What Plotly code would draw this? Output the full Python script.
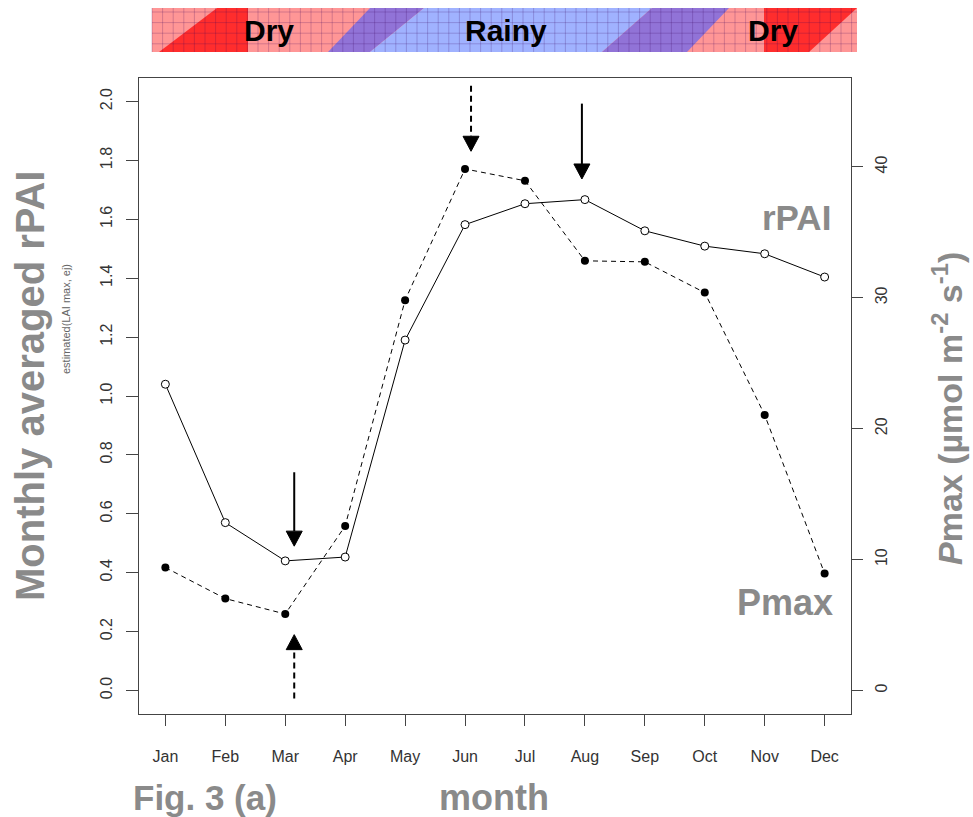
import plotly.graph_objects as go

# ---------------- data ----------------
months = ["Jan", "Feb", "Mar", "Apr", "May", "Jun", "Jul", "Aug", "Sep", "Oct", "Nov", "Dec"]
month_idx = list(range(1, 13))
rpai = [1.040, 0.570, 0.440, 0.453, 1.190, 1.582, 1.653, 1.667, 1.561, 1.509, 1.483, 1.404]
pmax = [9.39, 7.02, 5.84, 12.57, 29.82, 39.85, 38.95, 32.83, 32.75, 30.40, 21.05, 8.93]
left_ticks = [0.0, 0.2, 0.4, 0.6, 0.8, 1.0, 1.2, 1.4, 1.6, 1.8, 2.0]
right_ticks = [0, 10, 20, 30, 40]

# ---------------- layout helpers ----------------
W, H = 973, 817
PL, PR, PT, PB = 139, 851, 78, 714  # plot area in pixels


def px(x):
    return (x - PL) / (PR - PL)


def py(y):
    return (PB - y) / (PB - PT)


GRAY = "#8a8a8a"
TICKFONT = dict(family="Liberation Sans, Arial, sans-serif", size=16, color="#333")

fig = go.Figure()

fig.add_trace(go.Scatter(
    x=month_idx, y=rpai, mode="lines+markers", name="rPAI",
    line=dict(color="black", width=1),
    marker=dict(symbol="circle", size=8, color="white", line=dict(color="black", width=1)),
    yaxis="y", showlegend=False))

fig.add_trace(go.Scatter(
    x=month_idx, y=pmax, mode="lines+markers", name="Pmax",
    line=dict(color="black", width=1, dash="5px,4px"),
    marker=dict(symbol="circle", size=8, color="black"),
    yaxis="y2", showlegend=False))

shapes = []

# ---------------- arrows (relative to data points) ----------------
HW = 8 / 59.9   # half head width in month units
HL = 15 / 294   # head length in rPAI units


def arrow(x, y_tail, y_tip, dashed):
    d = 1 if y_tip < y_tail else -1
    y_base = y_tip + d * HL
    shapes.append(dict(type="line", xref="x", yref="y", x0=x, x1=x, y0=y_tail, y1=y_base,
                       line=dict(color="black", width=2, dash="6px,4px" if dashed else "solid")))
    shapes.append(dict(type="path", xref="x", yref="y",
                       path=f"M {x-HW},{y_base} L {x+HW},{y_base} L {x},{y_tip} Z",
                       fillcolor="black", line=dict(color="black", width=1)))


scale = 45 / 2.0
arrow(3.15, 0.741, rpai[2] + 0.05, False)
arrow(3.15, -0.027, pmax[2] / scale - 0.07, True)
arrow(6.10, 2.054, pmax[5] / scale + 0.06, True)
arrow(7.95, 1.993, rpai[7] + 0.07, False)

# ---------------- season band ----------------
BT, BB = 8, 52
BL, BR = 152, 857


def poly(pts, color):
    path = "M " + " L ".join(f"{px(a)},{py(b)}" for a, b in pts) + " Z"
    shapes.append(dict(type="path", xref="paper", yref="paper", path=path,
                       fillcolor=color, line=dict(width=0), layer="above"))


PINK = "rgb(255,150,150)"
RED = "rgb(255,45,45)"
BLUE = "rgb(160,178,255)"
PURPLE = "rgb(145,115,215)"
poly([(BL, BT), (BR, BT), (BR, BB), (BL, BB)], PINK)
poly([(159, BB), (217, BT), (248, BT), (248, BB)], RED)
poly([(328, BB), (370, BT), (424, BT), (370, BB)], PURPLE)
poly([(370, BB), (424, BT), (652, BT), (602, BB)], BLUE)
poly([(602, BB), (652, BT), (729, BT), (687, BB)], PURPLE)
poly([(764, BT), (BR, BT), (809, BB), (764, BB)], RED)
gx = BL
while gx <= BR:
    shapes.append(dict(type="line", xref="paper", yref="paper", x0=px(gx), x1=px(gx),
                       y0=py(BB), y1=py(BT), line=dict(color="rgba(60,0,90,0.22)", width=1),
                       layer="above"))
    gx += 10.6
gy = BT + 4
while gy <= BB:
    shapes.append(dict(type="line", xref="paper", yref="paper", x0=px(BL), x1=px(BR),
                       y0=py(gy), y1=py(gy), line=dict(color="rgba(60,0,90,0.22)", width=1),
                       layer="above"))
    gy += 10.6

annotations = []


def text(x, y, s, size, color, bold=True, angle=0, family="Liberation Sans, Arial, sans-serif"):
    annotations.append(dict(x=px(x), y=py(y), xref="paper", yref="paper", text=s,
                            showarrow=False, textangle=angle, xanchor="center", yanchor="middle",
                            font=dict(family=family, size=size, color=color,
                                      weight="bold" if bold else "normal")))


text(269, 31, "Dry", 30, "black")
text(506, 31, "Rainy", 30, "black")
text(773, 31, "Dry", 30, "black")

text(30, 386, "Monthly averaged rPAI", 40, GRAY, angle=-90)
text(66, 319, "estimated(LAI max, ej)", 11, "#666", bold=False, angle=-90)
text(948, 409, "<i>P</i>max (µmol m<sup>-2</sup> s<sup>-1</sup>)", 34, GRAY, angle=-90)
text(796, 218, "rPAI", 35, GRAY)
text(785, 602, "Pmax", 36, GRAY)
text(494, 797, "month", 36, GRAY)
text(205, 797, "Fig. 3 (a)", 35, GRAY)

AXC = "#444"
fig.update_layout(
    width=W, height=H,
    margin=dict(l=PL, r=W - PR, t=PT, b=H - PB),
    paper_bgcolor="white", plot_bgcolor="white",
    shapes=shapes, annotations=annotations,
    xaxis=dict(range=[0.56, 12.44], tickvals=month_idx, ticktext=months,
               ticks="outside", ticklen=11, tickcolor=AXC, showline=True, linecolor=AXC,
               linewidth=1, mirror=True, showgrid=False, zeroline=False,
               tickfont=TICKFONT, ticklabelstandoff=17),
    yaxis=dict(range=[-0.08, 2.08], tickvals=left_ticks, tickformat=".1f",
               ticks="outside", ticklen=12, tickcolor=AXC, showline=True, linecolor=AXC,
               linewidth=1, mirror=True, showgrid=False, zeroline=False, tickangle=-90,
               tickfont=TICKFONT, ticklabelstandoff=8),
    yaxis2=dict(range=[-1.8, 46.8], tickvals=right_ticks, overlaying="y", side="right",
                ticks="outside", ticklen=11, tickcolor=AXC, showline=True, linecolor=AXC,
                linewidth=1, showgrid=False, zeroline=False, tickangle=-90,
                tickfont=TICKFONT, ticklabelstandoff=5),
)

fig.write_html("out.html")
